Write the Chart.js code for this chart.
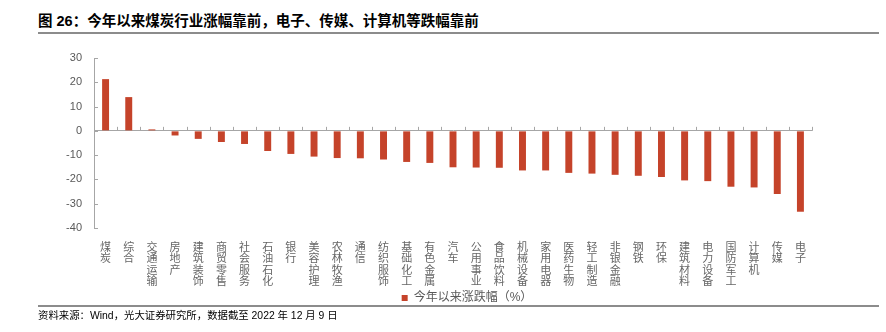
<!DOCTYPE html>
<html>
<head>
<meta charset="utf-8">
<script src="https://cdn.jsdelivr.net/npm/chart.js@4.4.1/dist/chart.umd.min.js"></script>
<style>
body { margin: 0; background: #fff; }
#wrap { position: relative; width: 886px; height: 332px; font-family: "Liberation Sans", "Noto Sans CJK SC", sans-serif; }
#title { position: absolute; left: 38px; top: 9px; font-size: 14.5px; font-weight: bold; color: #000; white-space: nowrap; }
.rule { position: absolute; left: 38px; width: 841px; height: 2px; background: #8c8c8c; }
#src { position: absolute; left: 38px; top: 307px; font-size: 10.4px; color: #000; white-space: nowrap; }
#chartBar { position: absolute; left: 0; top: 0; }
</style>
</head>
<body>
<div id="wrap">
  <div id="title">图 26：今年以来煤炭行业涨幅靠前，电子、传媒、计算机等跌幅靠前</div>
  <div class="rule" style="top:32px"></div>
  <canvas id="chartBar" width="886" height="332"></canvas>
  <div class="rule" style="top:305px"></div>
  <div id="src">资料来源：Wind，光大证券研究所，数据截至 2022 年 12 月 9 日</div>
</div>
<script>
const categories = ["煤炭", "综合", "交通运输", "房地产", "建筑装饰", "商贸零售", "社会服务", "石油石化", "银行", "美容护理",
    "农林牧渔", "通信", "纺织服饰", "基础化工", "有色金属", "汽车", "公用事业", "食品饮料", "机械设备", "家用电器",
    "医药生物", "轻工制造", "非银金融", "钢铁", "环保", "建筑材料", "电力设备", "国防军工", "计算机", "传媒", "电子"];
const changes = [21.3, 13.9, 0.6, -1.9, -3.3, -4.6, -5.4, -8.3, -9.5, -10.6,
    -11.2, -11.3, -11.8, -12.8, -13.2, -15.0, -15.1, -15.2, -16.3, -16.3,
    -17.3, -17.6, -18.1, -18.5, -19.0, -20.4, -20.7, -23.0, -23.3, -26.0, -33.3];
const yMin = -40;
const yMax = 30;
const yStep = 10;
const seriesName = "今年以来涨跌幅（%）";

const axisColor = "#a6a6a6";
const fontFamily = '"Liberation Sans", "Noto Sans CJK SC", sans-serif';

// small inward tick marks, like the original Excel chart
const innerTicks = {
    id: "innerTicks",
    afterLayout(chart) {
        // legend sits a bit right of centre in the original
        chart.legend.left += 34;
        chart.legend.right += 34;
    },
    afterDraw(chart) {
        const c = chart.ctx;
        const x = chart.scales.x;
        const y = chart.scales.y;
        const y0 = y.getPixelForValue(0);
        c.save();
        c.strokeStyle = axisColor;
        c.lineWidth = 1;
        c.beginPath();
        y.ticks.forEach(t => {
            const py = Math.round(y.getPixelForValue(t.value)) + 0.5;
            c.moveTo(x.left, py);
            c.lineTo(x.left + 4, py);
        });
        const w = (x.right - x.left) / categories.length;
        for (let i = 0; i <= categories.length; i++) {
            const px = Math.round(x.left + i * w) + 0.5;
            c.moveTo(px, y0);
            c.lineTo(px, y0 - 4);
        }
        c.stroke();
        c.restore();
    },
};

const ctx = document.getElementById("chartBar");
new Chart(ctx, {
    type: "bar",
    data: {
        labels: categories,
        datasets: [
            {
                label: seriesName,
                data: changes,
                backgroundColor: "#c5432a",
                barPercentage: 0.3,
                categoryPercentage: 1,
            },
        ],
    },
    options: {
        responsive: false,
        animation: false,
        layout: {
            padding: { left: 54, right: 74, top: 58, bottom: 18 },
        },
        plugins: {
            tooltip: { enabled: false },
            legend: {
                position: "bottom",
                align: "center",
                labels: {
                    boxWidth: 6,
                    boxHeight: 6,
                    padding: 4,
                    color: "#595959",
                    font: { size: 12, family: fontFamily },
                },
            },
        },
        scales: {
            x: {
                grid: { display: false },
                border: { display: false },
                afterFit: s => { s.height = 60; },
                ticks: {
                    autoSkip: false,
                    maxRotation: 0,
                    minRotation: 0,
                    padding: 6,
                    color: "#666",
                    font: { size: 11, family: fontFamily, lineHeight: 1.05 },
                    callback: function (v, i) {
                        return categories[i].split("");
                    },
                },
            },
            y: {
                min: yMin,
                max: yMax,
                afterFit: s => { s.width = 40; },
                border: { display: true, color: axisColor },
                grid: {
                    drawTicks: false,
                    color: c => (c.tick && c.tick.value === 0 ? axisColor : "rgba(0,0,0,0)"),
                },
                ticks: {
                    stepSize: yStep,
                    padding: 12,
                    color: "#595959",
                    font: { size: 11, family: fontFamily },
                },
            },
        },
    },
    plugins: [innerTicks],
});
</script>
</body>
</html>
